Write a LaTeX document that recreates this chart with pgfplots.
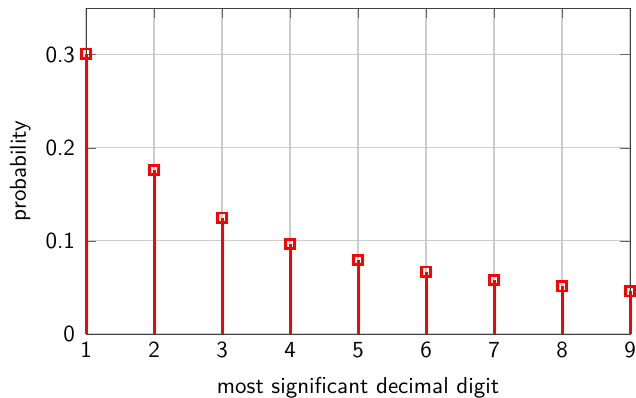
\documentclass[border=0pt]{standalone}
\usepackage{pgfplots}
\pgfplotsset{compat=1.18}
\begin{document}
\begin{tikzpicture}
\begin{axis}[
  name=benford,
  scale only axis,
  width=236.5pt, height=141.7pt,
  xmin=1, xmax=9, ymin=0, ymax=0.35,
  xtick={1,...,9},
  ytick={0,0.1,0.2,0.3},
  grid=major,
  grid style={gray!40, line width=0.5pt},
  axis line style={black!75},
  tick style={black!60},
  tick align=inside,
  font=\sffamily,
  /pgf/number format/assume math mode=true,
  yticklabel style={xshift=-1.3pt},
  xlabel={most significant decimal digit},
  xlabel style={yshift=-1.3pt},
  ylabel={probability},
  ylabel style={yshift=-0.4pt},
  clip=false,
]
\addplot+[ycomb, red, line width=1.3pt, mark=square, mark size=2pt,
  mark options={red, line width=1.2pt, fill=white}]
  coordinates {
    (1,0.30103) (2,0.17609) (3,0.12494) (4,0.09691) (5,0.07918)
    (6,0.06695) (7,0.05799) (8,0.05115) (9,0.04576)
  };
\end{axis}
% fixed margins round the frame
\pgfresetboundingbox
\path ([shift={(-37.4pt,-27.8pt)}]benford.south west)
  rectangle ([shift={(2.6pt,3.5pt)}]benford.north east);
\end{tikzpicture}
\end{document}
